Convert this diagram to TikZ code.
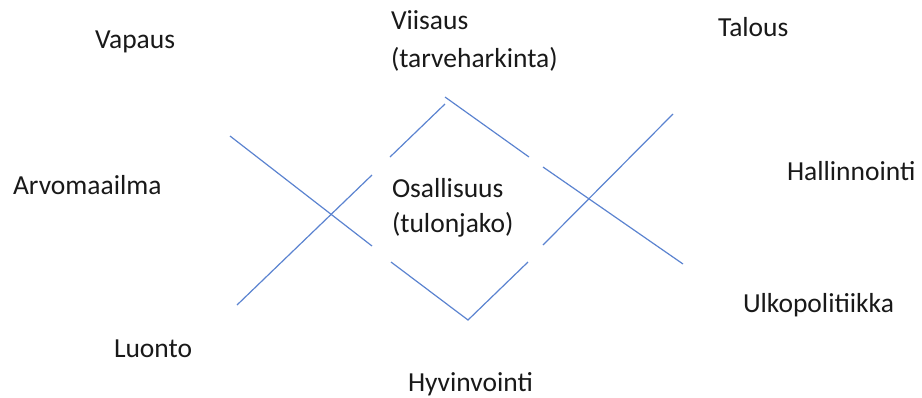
\documentclass[tikz,border=0pt]{standalone}
\usepackage{fontspec}
\setmainfont{Carlito}
\usepackage{tikz}

\definecolor{linjasin}{HTML}{5B83D0}
\tikzset{
  sana/.style={anchor=base west, inner sep=0pt, outer sep=0pt,
    font=\fontsize{27.5}{36}\selectfont, text=black!90},
  viiva/.style={draw=linjasin, line width=1.2pt}
}

\begin{document}
\begin{tikzpicture}[x=1pt, y=-1pt]
    \useasboundingbox (0,0) rectangle (922,397);
    % sanat (kahden rivin solmuissa kanta = alarivi)
    \node[sana] (vapaus) at (95,48) {Vapaus};
    \node[sana, align=left] (viisaus) at (391,67) {Viisaus\\[2pt](tarveharkinta)};
    \node[sana] (talous) at (718,36) {Talous};
    \node[sana] (arvo) at (13,194) {Arvomaailma};
    \node[sana, align=left] (osallisuus) at (392,232) {Osallisuus\\[-1pt](tulonjako)};
    \node[sana] (hallinto) at (787,180) {Hallinnointi};
    \node[sana] (ulko) at (743,312) {Ulkopolitiikka};
    \node[sana] (luonto) at (114,357) {Luonto};
    \node[sana] (hyvinvointi) at (408,391) {Hyvinvointi};
    % vasen risti
    \draw[viiva] (230,136) -- (372,246);
    \draw[viiva] (237,305) -- (372,175);
    % keskimmainen vinoneliö
    \draw[viiva] (390,157) -- (445,104);
    \draw[viiva] (445,97) -- (529,157);
    \draw[viiva] (391,262) -- (468,320) -- (528,262);
    % oikea risti
    \draw[viiva] (543,167) -- (683,264);
    \draw[viiva] (543,245) -- (673,114);
\end{tikzpicture}
\end{document}
